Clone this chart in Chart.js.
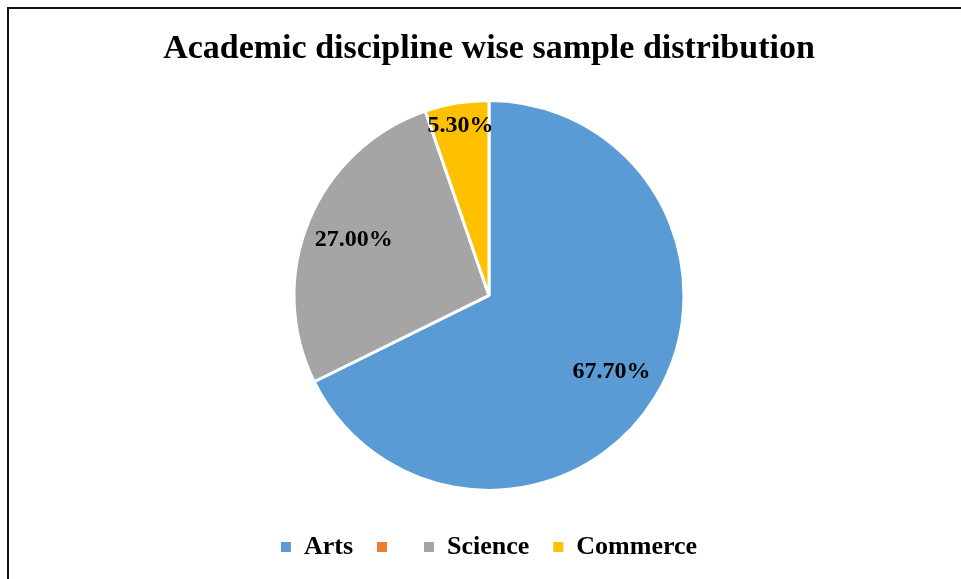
<!DOCTYPE html>
<html>
<head>
<meta charset="utf-8">
<script src="https://cdn.jsdelivr.net/npm/chart.js@4.4.1/dist/chart.umd.min.js"></script>
<style>
  html, body { margin: 0; padding: 0; background: #fff; }
  #wrap { position: relative; width: 961px; height: 579px; }
</style>
</head>
<body>
<div id="wrap"><canvas id="chart" width="961" height="579"></canvas></div>
<script>
// Sample distribution by academic discipline (percent)
const categories = ['Arts', '', 'Science', 'Commerce'];
const shares = [67.7, 0, 27.0, 5.3];
const valueLabels = ['67.70%', '', '27.00%', '5.30%'];
const sliceColors = ['#5B9BD5', '#ED7D31', '#A5A5A5', '#FFC000'];

const SERIF = '"Liberation Serif", "DejaVu Serif", serif';

// Thin frame along the top and left edges
const framePlugin = {
  id: 'frame',
  beforeDraw(chart) {
    const ctx = chart.ctx;
    ctx.save();
    ctx.fillStyle = '#111';
    ctx.fillRect(7, 7, chart.width - 7, 2);
    ctx.fillRect(7, 7, 2, chart.height - 7);
    ctx.restore();
  }
};

// Percentage text placed inside each slice along its bisector
const sliceLabelPlugin = {
  id: 'sliceLabels',
  afterDatasetsDraw(chart, args, opts) {
    const ctx = chart.ctx;
    const meta = chart.getDatasetMeta(0);
    ctx.save();
    ctx.font = opts.font;
    ctx.fillStyle = opts.color;
    ctx.textAlign = 'center';
    ctx.textBaseline = 'middle';
    meta.data.forEach((arc, i) => {
      const text = valueLabels[i];
      if (!text || !shares[i]) return;
      const p = arc.getProps(['x', 'y', 'startAngle', 'endAngle', 'outerRadius'], true);
      const mid = (p.startAngle + p.endAngle) / 2;
      const r = p.outerRadius * opts.radial[i];
      ctx.fillText(text, p.x + Math.cos(mid) * r, p.y + Math.sin(mid) * r);
    });
    ctx.restore();
  }
};

new Chart(document.getElementById('chart'), {
  type: 'pie',
  data: {
    labels: categories,
    datasets: [{
      data: shares,
      backgroundColor: sliceColors,
      borderColor: '#ffffff',
      borderWidth: 3,
      hoverOffset: 0,
      radius: 195
    }]
  },
  options: {
    responsive: false,
    animation: false,
    layout: { padding: { left: 17, right: 0, top: 10, bottom: 9 } },
    plugins: {
      title: {
        display: true,
        text: 'Academic discipline wise sample distribution',
        color: '#000',
        font: { family: SERIF, weight: 'bold', size: 34 },
        padding: { top: 19, bottom: 11 }
      },
      legend: {
        position: 'bottom',
        labels: {
          color: '#000',
          font: { family: SERIF, weight: 'bold', size: 26 },
          boxWidth: 10,
          boxHeight: 10,
          padding: 24,
          generateLabels(chart) {
            const items = Chart.controllers.pie.overrides.plugins.legend.labels.generateLabels(chart);
            return items.map(it => Object.assign(it, { lineWidth: 0, strokeStyle: 'rgba(0,0,0,0)', hidden: false }));
          }
        }
      },
      tooltip: { enabled: false },
      sliceLabels: {
        font: 'bold 24px ' + SERIF,
        color: '#000',
        radial: [0.74, 0, 0.75, 0.88]
      }
    }
  },
  plugins: [framePlugin, sliceLabelPlugin]
});
</script>
</body>
</html>
